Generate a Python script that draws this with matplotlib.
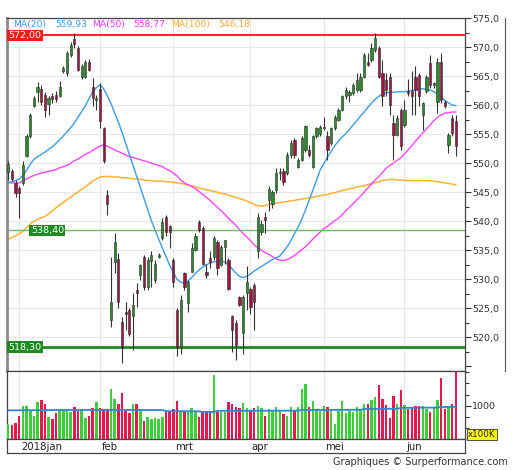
import matplotlib
matplotlib.use('Agg')
import matplotlib.pyplot as plt
import numpy as np
from matplotlib.ticker import FuncFormatter, MultipleLocator, FixedLocator
from matplotlib.lines import Line2D
import matplotlib.transforms as mtransforms

# ---------------- data ----------------
opens = [548.4, 548.6, 546.5, 545.7, 546.5, 551.3, 554.7, 559.9, 562.3, 562.8,
         561.8, 560.2, 561.6, 561.8, 561.6, 565.8, 565.5, 568.7, 571.3, 569.8,
         564.9, 564.9, 567.5, 563.2, 560.9, 562.8, 556.0, 544.5, 523.0, 533.0,
         533.5, 522.7, 524.3, 524.7, 523.6, 528.2, 530.7, 533.9, 528.7, 533.2,
         529.9, 533.9, 537.1, 540.8, 539.1, 533.3, 524.7, 518.1, 531.0, 525.9,
         531.3, 535.1, 539.9, 538.8, 531.3, 533.6, 533.9, 536.5, 532.5, 535.6,
         533.3, 523.6, 522.4, 527.0, 520.7, 527.6, 528.4, 529.0, 534.8, 538.2,
         540.7, 543.7, 543.0, 545.4, 548.3, 548.6, 548.3, 551.4, 554.0, 549.4,
         550.6, 552.3, 552.3, 549.4, 554.6, 555.0, 556.0, 554.6, 553.4, 556.0,
         557.5, 559.2, 561.5, 561.8, 562.1, 562.6, 562.6, 564.9, 567.5, 567.8,
         569.5, 569.8, 565.5, 564.4, 564.9, 556.9, 554.9, 559.2, 556.6, 562.4,
         562.4, 564.9, 565.2, 558.3, 562.4, 567.2, 563.5, 560.6, 567.5, 560.6,
         553.2, 557.7, 557.2]
highs = [550.3, 549.0, 547.1, 546.0, 550.3, 555.0, 558.6, 561.5, 564.0, 563.5,
         562.2, 561.5, 562.0, 562.4, 564.1, 566.8, 569.3, 570.8, 572.5, 570.1,
         567.0, 567.8, 568.0, 564.6, 561.8, 563.8, 556.3, 545.3, 533.9, 537.9,
         534.5, 523.5, 526.1, 525.0, 527.6, 529.3, 532.7, 534.2, 533.9, 534.8,
         533.3, 534.5, 540.5, 541.1, 539.4, 533.6, 525.0, 527.3, 531.3, 529.9,
         536.2, 537.9, 540.2, 539.1, 532.7, 534.8, 537.4, 536.8, 535.9, 536.8,
         533.6, 523.8, 523.0, 527.2, 527.3, 532.2, 528.7, 529.3, 541.4, 540.2,
         541.5, 546.0, 545.4, 549.1, 549.1, 549.1, 551.9, 554.0, 554.3, 550.9,
         554.6, 556.6, 553.1, 554.9, 556.3, 556.6, 557.9, 555.5, 556.3, 558.3,
         559.5, 561.8, 563.2, 562.6, 563.8, 565.5, 565.5, 569.0, 569.0, 570.7,
         572.4, 570.1, 567.8, 565.5, 565.5, 558.3, 558.3, 559.5, 560.9, 564.5,
         565.8, 566.7, 565.5, 560.6, 565.2, 568.7, 564.0, 568.1, 569.0, 560.9,
         555.2, 558.3, 558.3]
lows = [547.1, 547.0, 544.2, 540.5, 546.2, 551.0, 554.3, 559.6, 560.6, 560.0,
        558.0, 558.3, 560.3, 560.6, 561.4, 565.5, 565.0, 568.3, 569.8, 565.8,
        564.5, 564.6, 565.8, 559.8, 559.2, 556.0, 550.0, 541.1, 521.8, 531.0,
        525.0, 515.5, 521.3, 520.2, 517.8, 525.3, 529.9, 528.2, 528.2, 528.7,
        529.3, 533.6, 536.8, 537.4, 535.3, 528.7, 516.7, 517.2, 528.2, 524.4,
        531.3, 534.8, 538.2, 532.5, 530.2, 531.9, 533.3, 530.7, 532.2, 532.7,
        528.2, 517.5, 516.1, 525.4, 517.2, 524.7, 524.1, 521.3, 533.6, 537.6,
        537.9, 541.7, 542.3, 544.8, 547.1, 546.3, 548.0, 550.9, 550.9, 549.1,
        550.3, 552.0, 551.1, 549.1, 554.3, 554.6, 555.7, 550.6, 553.1, 555.7,
        557.2, 558.9, 561.0, 560.6, 561.8, 562.3, 562.3, 564.6, 566.7, 567.5,
        569.2, 564.6, 559.8, 561.5, 558.3, 550.6, 554.6, 552.3, 556.3, 561.5,
        558.3, 558.3, 559.8, 555.7, 562.1, 563.0, 563.0, 558.6, 560.3, 559.5,
        551.7, 554.6, 551.3]
closes = [549.9, 547.2, 544.8, 544.9, 549.7, 554.7, 558.3, 561.2, 563.2, 560.6,
          559.2, 561.2, 561.0, 561.0, 563.2, 566.4, 569.0, 570.4, 570.6, 566.1,
          566.7, 567.5, 566.1, 561.2, 561.3, 557.2, 550.3, 542.9, 526.1, 536.5,
          526.1, 518.1, 524.0, 520.6, 525.6, 527.6, 532.5, 528.7, 533.3, 534.2,
          532.7, 534.2, 539.8, 538.2, 538.2, 529.6, 518.4, 526.4, 528.7, 529.6,
          535.3, 537.4, 538.5, 532.7, 530.7, 533.0, 537.1, 531.9, 535.6, 536.7,
          528.4, 521.3, 518.7, 525.6, 527.0, 529.6, 525.3, 526.1, 540.8, 539.6,
          540.2, 545.5, 545.0, 548.3, 548.5, 546.8, 551.4, 553.4, 551.4, 550.6,
          554.3, 556.4, 551.4, 554.7, 556.0, 556.3, 556.2, 552.3, 556.0, 558.0,
          559.2, 561.5, 562.6, 562.3, 563.5, 564.4, 564.9, 568.7, 566.9, 569.8,
          571.5, 564.9, 561.5, 562.6, 560.1, 554.9, 557.7, 552.9, 559.2, 562.1,
          561.5, 562.6, 561.5, 560.3, 564.9, 563.5, 563.8, 567.5, 560.9, 559.8,
          554.9, 555.2, 552.9]
volumes = [450, 430, 480, 680, 980, 980, 830, 700, 1110, 1160,
           1050, 650, 600, 770, 900, 900, 900, 800, 950, 830,
           900, 630, 700, 930, 1110, 930, 900, 900, 1490, 1210,
           1050, 1380, 830, 770, 1050, 1050, 900, 550, 650, 600,
           630, 600, 650, 830, 850, 900, 1130, 850, 850, 830,
           930, 800, 650, 850, 850, 830, 1910, 800, 800, 800,
           1100, 1060, 950, 930, 1080, 930, 830, 930, 1000, 930,
           680, 900, 830, 950, 830, 750, 680, 950, 850, 950,
           1510, 1660, 950, 1130, 880, 850, 980, 950, 830, 450,
           850, 1130, 780, 850, 800, 950, 900, 1050, 1050, 1160,
           1250, 1610, 1210, 1030, 630, 1280, 1050, 1480, 1010, 900,
           950, 980, 980, 980, 900, 800, 950, 1160, 1830, 900,
           980, 1050, 2030]
vol_avg = [860, 860, 860, 862, 862, 863, 864, 865, 865, 866,
           866, 867, 867, 868, 868, 868, 869, 869, 870, 870,
           870, 870, 870, 871, 871, 871, 872, 872, 872, 872,
           872, 872, 872, 872, 871, 871, 871, 870, 870, 870,
           870, 869, 869, 835, 835, 834, 834, 833, 833, 832,
           832, 831, 830, 810, 810, 810, 812, 845, 845, 845,
           846, 846, 846, 846, 847, 847, 847, 848, 848, 848,
           848, 849, 849, 849, 850, 850, 850, 850, 851, 851,
           870, 870, 871, 871, 872, 872, 872, 873, 873, 874,
           874, 874, 875, 875, 876, 876, 877, 900, 900, 901,
           902, 903, 904, 905, 906, 907, 908, 935, 935, 936,
           937, 938, 938, 939, 940, 941, 942, 943, 960, 960,
           962, 963, 965]
ma20 = [546.7, 546.8, 547.0, 547.3, 547.9, 548.8, 549.8, 550.7, 551.1, 551.5,
        551.9, 552.4, 552.8, 553.4, 554.0, 554.7, 555.4, 556.1, 556.9, 557.9,
        558.9, 559.9, 561.1, 562.3, 563.0, 563.5, 562.8, 561.6, 560.3, 558.6,
        557.1, 555.3, 553.4, 551.5, 549.6, 547.7, 545.8, 543.9, 542.0, 540.1,
        538.5, 536.9, 535.4, 533.9, 532.4, 531.2, 530.0, 529.5, 529.3, 529.7,
        530.3, 531.0, 531.6, 532.1, 532.5, 532.8, 533.0, 533.1, 533.1, 533.0,
        532.5, 531.8, 531.1, 530.5, 530.3, 530.5, 530.9, 531.4, 531.8, 532.2,
        532.6, 533.0, 533.4, 533.7, 534.0, 534.8, 535.6, 536.6, 537.8, 539.0,
        540.3, 541.9, 543.6, 545.3, 547.0, 548.8, 549.9, 551.0, 552.0, 553.0,
        553.8, 554.5, 555.1, 555.8, 556.6, 557.3, 558.1, 558.8, 559.6, 560.3,
        561.0, 561.5, 561.9, 562.1, 562.2, 562.2, 562.3, 562.3, 562.3, 562.4,
        562.5, 562.6, 562.8, 562.8, 562.7, 562.6, 562.3, 561.9, 561.4, 560.8,
        560.4, 560.0, 559.9]
ma50 = [546.6, 546.6, 546.6, 546.6, 546.9, 547.3, 547.6, 547.9, 548.1, 548.3,
        548.4, 548.6, 548.7, 548.9, 549.2, 549.4, 549.6, 550.0, 550.4, 550.7,
        551.1, 551.5, 551.8, 552.2, 552.6, 552.9, 553.2, 552.9, 552.6, 552.3,
        552.0, 551.7, 551.4, 551.1, 551.0, 550.8, 550.6, 550.4, 550.2, 550.0,
        549.8, 549.6, 549.4, 549.0, 548.7, 548.3, 547.8, 547.1, 546.6, 546.3,
        546.0, 545.6, 545.1, 544.6, 544.1, 543.6, 543.0, 542.4, 541.8, 541.2,
        540.5, 539.9, 539.3, 538.6, 537.9, 537.3, 536.7, 535.9, 535.5, 535.0,
        534.6, 534.3, 533.9, 533.5, 533.3, 533.2, 533.4, 533.7, 534.1, 534.6,
        535.1, 535.6, 536.2, 536.9, 537.5, 538.1, 538.7, 539.1, 539.6, 540.1,
        540.5, 541.1, 541.8, 542.4, 543.0, 543.7, 544.3, 545.0, 545.7, 546.4,
        547.1, 547.7, 548.4, 549.1, 549.6, 550.0, 550.5, 550.9, 551.6, 552.3,
        553.0, 553.8, 554.5, 555.2, 555.9, 556.6, 557.3, 557.9, 558.3, 558.6,
        558.7, 558.8, 558.8]
ma100 = [536.9, 537.2, 537.5, 537.8, 538.3, 538.9, 539.5, 540.0, 540.3, 540.6,
         540.8, 541.3, 541.8, 542.3, 542.8, 543.2, 543.7, 544.1, 544.6, 545.0,
         545.5, 545.9, 546.4, 546.9, 547.3, 547.6, 547.7, 547.7, 547.7, 547.6,
         547.6, 547.5, 547.5, 547.4, 547.3, 547.3, 547.2, 547.1, 547.0, 547.0,
         546.9, 546.9, 546.9, 546.8, 546.8, 546.7, 546.6, 546.5, 546.4, 546.2,
         546.1, 545.9, 545.7, 545.6, 545.4, 545.3, 545.1, 545.0, 544.8, 544.7,
         544.5, 544.3, 544.1, 543.9, 543.7, 543.5, 543.2, 542.9, 542.7, 542.6,
         542.7, 542.9, 543.0, 543.1, 543.2, 543.3, 543.4, 543.5, 543.6, 543.7,
         543.8, 543.9, 544.0, 544.1, 544.3, 544.4, 544.5, 544.6, 544.8, 544.9,
         545.1, 545.3, 545.4, 545.6, 545.7, 545.9, 546.0, 546.1, 546.3, 546.5,
         546.6, 546.8, 547.0, 547.1, 547.2, 547.2, 547.1, 547.1, 547.0, 547.0,
         547.0, 547.0, 547.0, 547.0, 547.0, 547.0, 546.9, 546.8, 546.7, 546.6,
         546.5, 546.4, 546.2]
month_labels = ['2018jan', 'feb', 'mrt', 'apr', 'mei', 'jun']
month_start = [3, 25, 45, 66, 86, 108]
ma_last = ['559,93', '558,77', '546,18']
levels = [572.00, 538.40, 518.30]
level_labels = ['572,00', '538,40', '518,30']

# ---------------- figure ----------------
W, H = 512, 470
fig = plt.figure(figsize=(W / 100, H / 100), dpi=100)
plt.rcParams['font.family'] = ['DejaVu Sans']

def fx(px):
    return px / W

def fy(py):
    return 1 - py / H

L, R = 7, 465
ax = fig.add_axes([fx(L), fy(371), fx(R - L), (371 - 18) / H])
axv = fig.add_axes([fx(L), fy(439), fx(R - L), (439 - 371) / H])
axd = fig.add_axes([fx(L), fy(453), fx(R - L), (453 - 439) / H])

N = len(closes)
x = np.arange(N)
o = np.array(opens); h = np.array(highs); l = np.array(lows); c = np.array(closes)
up = c >= o
xlim = (-0.35, 124.5)

GRID = '#e8e8e8'
for a in (ax, axv, axd):
    a.set_xlim(*xlim)
    a.set_xticks([])
    for s in a.spines.values():
        s.set_color('#444444')
        s.set_linewidth(0.9)
ax.spines['left'].set_color('#8a8a8a')
ax.spines['left'].set_linewidth(2.0)

# grid
ax.set_ylim(514.2, 575.0)
for yv in np.arange(520, 576, 5):
    ax.axhline(yv, color=GRID, lw=0.8, zorder=0)
for m in month_start:
    ax.axvline(m, color=GRID, lw=0.8, zorder=0)
    axv.axvline(m, color=GRID, lw=0.8, zorder=0)

# candles
ax.vlines(x, l, h, color='#333333', lw=0.8, zorder=3)
body_bottom = np.minimum(o, c)
body_h = np.maximum(np.abs(c - o), 0.15)
ccol = np.where(up, '#2a8c2a', '#a0153e')
ax.bar(x, body_h, bottom=body_bottom, width=0.62, color=ccol,
       edgecolor='#2b2b2b', linewidth=0.4, zorder=4)

# moving averages
ax.plot(x, ma100, color='#ffb038', lw=1.1, zorder=2)
ax.plot(x, ma50, color='#ff44ff', lw=1.0, zorder=2)
ax.plot(x, ma20, color='#3d9be9', lw=1.0, zorder=2)

# levels
blend = mtransforms.blended_transform_factory(ax.transAxes, ax.transData)
ax.axhline(levels[0], color='#ff2a2a', lw=1.5, zorder=2.5)
ax.axhline(levels[1], color='#6abf5e', lw=1.0, zorder=2.5)
ax.axhline(levels[2], color='#1e8a1e', lw=2.0, zorder=2.5)
ax.text(0.003, levels[0], level_labels[0], transform=blend, ha='left', va='center',
        color='white', fontsize=6.8, zorder=6,
        bbox=dict(facecolor='#ff1a1a', edgecolor='none', pad=1.0))
ax.text(0.052, levels[1], level_labels[1], transform=blend, ha='left', va='center',
        color='white', fontsize=6.8, zorder=6,
        bbox=dict(facecolor='#1f8a1f', edgecolor='none', pad=1.0))
ax.text(0.003, levels[2], level_labels[2], transform=blend, ha='left', va='center',
        color='white', fontsize=6.8, zorder=6,
        bbox=dict(facecolor='#1f8a1f', edgecolor='none', pad=1.0))

# legend texts
leg_y = 1 - (25 - 18) / (371 - 18)
leg = [('MA(20)', 13, '#3d9be9'), (ma_last[0], 55, '#3d9be9'),
       ('MA(50)', 92, '#ff33ff'), (ma_last[1], 133, '#ff33ff'),
       ('MA(100)', 171, '#ffaa33'), (ma_last[2], 218, '#ffaa33')]
for t, px, col in leg:
    ax.text((px - L) / (R - L), leg_y, t, transform=ax.transAxes, ha='left',
            va='center', color=col, fontsize=6.7, zorder=6)

# price axis on right
def price_fmt(v, p):
    if v < 517:
        return ''
    return f'{v:.1f}'.replace('.', ',')

ax.yaxis.tick_right()
ax.yaxis.set_major_locator(MultipleLocator(5))
ax.yaxis.set_minor_locator(MultipleLocator(2.5))
ax.yaxis.set_major_formatter(FuncFormatter(price_fmt))
ax.tick_params(axis='y', which='major', length=4, width=0.8, color='#333333',
               labelsize=6.8, labelcolor='#333333', pad=1)
ax.tick_params(axis='y', which='minor', length=3, width=0.8, color='#333333')

# volume panel
vcol = np.where(up, '#3ccf3c', '#e8174f')
axv.bar(x, volumes, width=0.66, color=vcol, zorder=3)
axv.plot(x, vol_avg, color='#2f86d6', lw=1.3, zorder=4)
axv.set_ylim(0, 2040)
axv.yaxis.tick_right()
axv.yaxis.set_major_locator(FixedLocator([1000]))
axv.yaxis.set_minor_locator(FixedLocator([1000 / 3, 2000 / 3, 4000 / 3, 5000 / 3, 2000]))
axv.tick_params(axis='y', which='major', length=4, width=0.8, color='#333333',
                labelsize=6.8, labelcolor='#333333', pad=1)
axv.tick_params(axis='y', which='minor', length=3, width=0.8, color='#333333')

# date strip
axd.set_ylim(0, 1)
axd.set_yticks([])
for m, t in zip(month_start, month_labels):
    axd.text(m + 0.4, 0.45, t, ha='left', va='center', fontsize=7.3, color='#222222')

# x100K box
fig.text(fx(468), fy(434.5), 'x100K', ha='left', va='center', fontsize=6.3,
         color='#222222', bbox=dict(facecolor='#ffff00', edgecolor='#333333',
                                    linewidth=0.6, pad=0.8))

# outer right line
fig.add_artist(Line2D([fx(505), fx(505)], [fy(18), fy(371)], color='#555555', lw=0.8))

# footer
fig.text(fx(508), fy(462), 'Graphiques © Surperformance.com', ha='right', va='center',
         fontsize=7, color='#333333')

fig.savefig('out.png', dpi=100)
